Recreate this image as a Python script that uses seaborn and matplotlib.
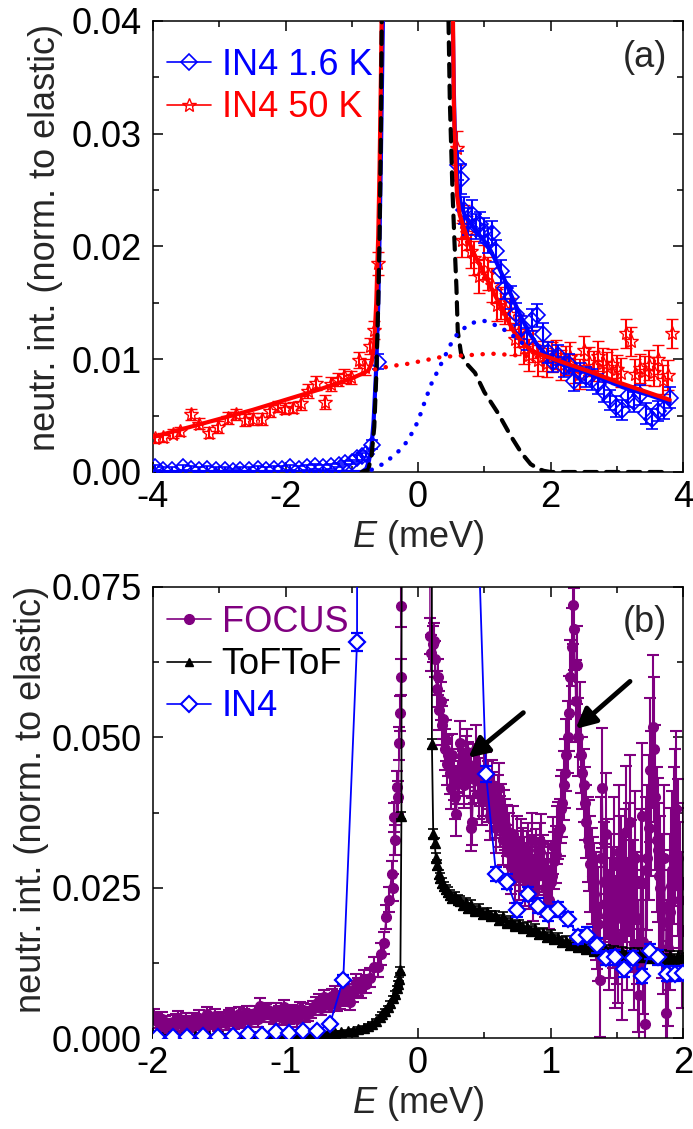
import numpy as np
import pandas as pd
import matplotlib
matplotlib.use("Agg")
import matplotlib.pyplot as plt
from matplotlib.lines import Line2D
from matplotlib.ticker import MultipleLocator, FormatStrFormatter
import seaborn as sns

# ---------------- data: panel (a) ----------------
in4_16K_x_left = [-3.97, -3.85, -3.72, -3.55, -3.42, -3.3, -3.18, -3.05, -2.92, -2.8, -2.68, -2.55, -2.42, -2.3, -2.18,
                  -2.05, -1.93, -1.8, -1.68, -1.56, -1.44, -1.32, -1.2, -1.1, -1.0, -0.92, -0.85, -0.78, -0.7, -0.6]
in4_16K_y_left = [0.0004, 0.0002, 0.0002, 0.0004, 0.0003, 0.0002, 0.0003, 0.0002, 0.0002, 0.0001, 0.0002, 0.0002, 0.0003,
                  0.0002, 0.0003, 0.0003, 0.0004, 0.0003, 0.0004, 0.0005, 0.0004, 0.0005, 0.0006, 0.0008, 0.0009, 0.0012,
                  0.0014, 0.0016, 0.0024, 0.0098]
in4_16K_e_left = [0.0002, 0.0002, 0.0002, 0.0002, 0.0002, 0.0002, 0.0002, 0.0002, 0.0002, 0.0002, 0.0002, 0.0002, 0.0002,
                  0.0002, 0.0002, 0.0002, 0.0002, 0.0002, 0.0002, 0.0002, 0.0002, 0.0002, 0.0002, 0.0002, 0.0002, 0.0003,
                  0.0003, 0.0003, 0.0004, 0.0007]
in4_16K_x_right = [0.6, 0.65, 0.7, 0.76, 0.82, 0.88, 0.94, 1.0, 1.06, 1.12, 1.18, 1.25, 1.32, 1.4, 1.48, 1.56, 1.64, 1.72,
                   1.8, 1.88, 1.96, 2.04, 2.12, 2.2, 2.28, 2.36, 2.45, 2.54, 2.63, 2.72, 2.81, 2.9, 2.99, 3.08, 3.17, 3.26,
                   3.35, 3.44, 3.53, 3.62, 3.71, 3.8]
in4_16K_y_right = [0.0272, 0.026, 0.0232, 0.0222, 0.0229, 0.0218, 0.022, 0.0214, 0.0205, 0.0212,
                   0.0196, 0.0178, 0.0163, 0.0155, 0.014, 0.0128, 0.0118, 0.0135, 0.0139, 0.0122,
                   0.0106, 0.0098, 0.0104, 0.0093, 0.0096, 0.0081, 0.0088, 0.0084, 0.0082, 0.0078,
                   0.0071, 0.0064, 0.0058, 0.0055, 0.0067, 0.0062, 0.0068, 0.0052, 0.0047, 0.0054,
                   0.0056, 0.0066]
in4_16K_e_right = [0.0013, 0.0013, 0.0012, 0.0012, 0.0012, 0.0011, 0.0011, 0.0011, 0.0011, 0.0011,
                   0.0010, 0.0010, 0.0010, 0.0010, 0.0010, 0.0010, 0.0010, 0.0010, 0.0010, 0.0010,
                   0.0009, 0.0009, 0.0009, 0.0009, 0.0009, 0.0009, 0.0009, 0.0009, 0.0009, 0.0009,
                   0.0009, 0.0009, 0.0009, 0.0009, 0.0009, 0.0009, 0.0009, 0.0009, 0.0009, 0.0009,
                   0.0009, 0.0009]

in4_50K_x_left = [-3.97, -3.85, -3.7, -3.6, -3.43, -3.3, -3.15, -3.02, -2.87, -2.74, -2.61, -2.49, -2.36, -2.24, -2.11,
                  -2.01, -1.89, -1.76, -1.66, -1.54, -1.41, -1.31, -1.21, -1.11, -1.01, -0.89, -0.8, -0.73, -0.66, -0.6]
in4_50K_y_left = [0.0030, 0.0031, 0.0034, 0.0036, 0.0051, 0.0043, 0.0035, 0.0040, 0.0048, 0.0051, 0.0046, 0.0047, 0.0047,
                  0.0054, 0.0058, 0.0056, 0.0057, 0.0061, 0.0072, 0.0079, 0.0062, 0.0078, 0.0082, 0.0085, 0.0084, 0.0099,
                  0.0093, 0.0112, 0.0126, 0.0185]
in4_50K_e_left = [0.0004, 0.0004, 0.0004, 0.0004, 0.0005, 0.0005, 0.0005, 0.0005, 0.0005, 0.0005, 0.0005, 0.0005, 0.0005,
                  0.0005, 0.0005, 0.0005, 0.0005, 0.0006, 0.0006, 0.0006, 0.0006, 0.0006, 0.0006, 0.0006, 0.0006, 0.0007,
                  0.0007, 0.0007, 0.0008, 0.0010]
in4_50K_x_right = [0.59, 0.66, 0.7, 0.74, 0.8, 0.85, 0.92, 0.99, 1.05, 1.12,
                   1.19, 1.25, 1.32, 1.39, 1.46, 1.53, 1.6, 1.67, 1.74, 1.81,
                   1.88, 1.95, 2.02, 2.09, 2.16, 2.23, 2.3, 2.37, 2.44, 2.51,
                   2.58, 2.65, 2.72, 2.79, 2.86, 2.93, 3.0, 3.07, 3.14, 3.21,
                   3.28, 3.35, 3.42, 3.49, 3.56, 3.63, 3.7, 3.77, 3.83]
in4_50K_y_right = [0.0287, 0.0206, 0.0222, 0.0212, 0.0196, 0.019, 0.0174, 0.0186, 0.0176, 0.0166,
                   0.0148, 0.015, 0.0145, 0.014, 0.0118, 0.0125, 0.011, 0.0104, 0.0112, 0.0099,
                   0.0103, 0.0097, 0.0102, 0.0104, 0.0095, 0.0099, 0.0102, 0.0092, 0.0087, 0.0108,
                   0.0098, 0.0094, 0.0103, 0.0097, 0.0093, 0.0096, 0.0091, 0.0088, 0.0123, 0.0116,
                   0.0087, 0.0092, 0.009, 0.0095, 0.0089, 0.01, 0.0082, 0.0086, 0.0123]
in4_50K_e_right = [0.0015, 0.0015, 0.0015, 0.0015, 0.0015, 0.0015, 0.0015, 0.0015, 0.0015, 0.0015,
                   0.0014, 0.0014, 0.0014, 0.0014, 0.0014, 0.0014, 0.0014, 0.0014, 0.0014, 0.0014,
                   0.0013, 0.0013, 0.0013, 0.0013, 0.0013, 0.0013, 0.0013, 0.0013, 0.0013, 0.0013,
                   0.0013, 0.0013, 0.0013, 0.0013, 0.0013, 0.0013, 0.0013, 0.0013, 0.0013, 0.0013,
                   0.0013, 0.0013, 0.0013, 0.0013, 0.0013, 0.0013, 0.0013, 0.0013, 0.0013]

# fit curves
fit50_x_left = [-4.0, -3.5, -3.0, -2.5, -2.0, -1.5, -1.2, -1.0, -0.85, -0.75, -0.7, -0.66, -0.63, -0.6, -0.58, -0.56, -0.545]
fit50_y_left = [0.0031, 0.0039, 0.0047, 0.0055, 0.0064, 0.0073, 0.0079, 0.0083, 0.0087, 0.0090, 0.0097, 0.0115, 0.0150,
                0.0210, 0.0270, 0.0350, 0.0420]
fit50_x_right = [0.525, 0.54, 0.56, 0.59, 0.63, 0.7, 0.76, 0.85, 1.0, 1.15, 1.26, 1.36, 1.46, 1.6, 1.71, 1.85, 1.96, 2.2,
                 2.6, 3.0, 3.4, 3.8]
fit50_y_right = [0.0420, 0.0330, 0.0280, 0.0245, 0.0228, 0.0215, 0.0205, 0.0193, 0.0176, 0.0158, 0.0146, 0.0134, 0.0123,
                 0.0113, 0.0108, 0.0104, 0.0102, 0.0097, 0.0089, 0.0080, 0.0072, 0.0064]
fit16_x_left = [-4.0, -0.85, -0.78, -0.74, -0.7, -0.67, -0.63, -0.6, -0.58, -0.56, -0.54, -0.525]
fit16_y_left = [0.0, 0.0, 0.0003, 0.0010, 0.0024, 0.0045, 0.0093, 0.0150, 0.0210, 0.0280, 0.0360, 0.0420]
fit16_x_right = [0.52, 0.54, 0.56, 0.6, 0.65, 0.72, 0.8, 0.9, 1.0, 1.1, 1.2, 1.31, 1.42, 1.56, 1.68, 1.81, 1.96, 2.2, 2.6,
                 3.1, 3.5, 3.8]
fit16_y_right = [0.0420, 0.0340, 0.0290, 0.0255, 0.0236, 0.0226, 0.0220, 0.0212, 0.0205, 0.0196, 0.0184, 0.0170, 0.0155,
                 0.0137, 0.0123, 0.0112, 0.0102, 0.0095, 0.0087, 0.0075, 0.0068, 0.0062]
elastic_x_left = [-0.85, -0.75, -0.7, -0.66, -0.63, -0.6, -0.58, -0.56, -0.545]
elastic_y_left = [0.0, 0.0002, 0.0015, 0.0040, 0.0085, 0.0150, 0.0210, 0.0300, 0.0420]
elastic_x_right = [0.455, 0.48, 0.52, 0.55, 0.58, 0.6, 0.65, 0.72, 0.86, 1.0, 1.21, 1.4, 1.56, 1.7, 1.81, 1.9, 2.0, 3.8]
elastic_y_right = [0.0420, 0.0330, 0.0250, 0.0205, 0.0164, 0.0125, 0.0105, 0.0097, 0.0088, 0.0071, 0.0052, 0.0032, 0.0017,
                   0.0007, 0.0003, 0.0001, 0.0, 0.0]
qe16_x = [-0.7, -0.5, -0.3, -0.15, 0.0, 0.1, 0.2, 0.35, 0.5, 0.6, 0.75, 0.86, 1.0, 1.1, 1.25, 1.36, 1.5, 1.6]
qe16_y = [0.0002, 0.0008, 0.0018, 0.0028, 0.0045, 0.0062, 0.0078, 0.0096, 0.0114, 0.0123, 0.0130, 0.0133, 0.0134, 0.0132,
          0.0128, 0.0124, 0.0118, 0.0113]
qe50_x = [-0.65, -0.4, -0.15, 0.1, 0.35, 0.6, 0.86, 1.1, 1.36, 1.6, 1.8]
qe50_y = [0.0091, 0.0094, 0.0096, 0.0099, 0.0102, 0.0103, 0.0104, 0.0105, 0.0104, 0.0103, 0.0102]

# ---------------- data: panel (b) ----------------
focus_x = [-1.99, -1.95, -1.91, -1.87, -1.83, -1.79, -1.75, -1.71, -1.67, -1.63,
           -1.59, -1.55, -1.51, -1.47, -1.43, -1.39, -1.35, -1.31, -1.27, -1.23,
           -1.19, -1.15, -1.11, -1.07, -1.03, -0.99, -0.95, -0.91, -0.87, -0.83,
           -0.79, -0.75, -0.71, -0.67, -0.63, -0.59, -0.55, -0.51, -0.47, -0.43,
           -0.39, -0.36, -0.33, -0.3, -0.28, -0.26, -0.24, -0.22, -0.2, -0.19,
           -0.18, -0.17, -0.16, -0.15, -0.14, -0.135, -0.13, -0.125, -0.115, 0.08,
           0.09, 0.11, 0.13, 0.15, 0.17, 0.19, 0.21, 0.23, 0.25, 0.27,
           0.29, 0.31, 0.33, 0.35, 0.37, 0.39, 0.41, 0.43, 0.45, 0.47,
           0.49, 0.51, 0.53, 0.55, 0.57, 0.59, 0.61, 0.63, 0.65, 0.67,
           0.69, 0.71, 0.73, 0.75, 0.77, 0.79, 0.81, 0.83, 0.85, 0.87,
           0.89, 0.91, 0.93, 0.95, 0.97, 0.99, 1.01, 1.03, 1.05, 1.07,
           1.09, 1.11, 1.13, 1.15, 1.17, 1.19, 1.21, 1.23, 1.25, 1.27,
           1.29, 1.31, 1.33, 1.35, 1.37, 1.39, 1.41, 1.43, 1.45, 1.47,
           1.49, 1.51, 1.53, 1.55, 1.57, 1.59, 1.61, 1.63, 1.65, 1.67,
           1.69, 1.71, 1.73, 1.75, 1.77, 1.79, 1.81, 1.83, 1.85, 1.87,
           1.89, 1.91, 1.93, 1.95, 1.97, 1.99]
focus_y = [0.0036, 0.0022, 0.0025, 0.0020, 0.0028, 0.0024, 0.0030, 0.0022, 0.0026, 0.0021,
           0.0040, 0.0028, 0.0024, 0.0032, 0.0035, 0.0027, 0.0040, 0.0036, 0.0030, 0.0042,
           0.0054, 0.0044, 0.0038, 0.0046, 0.0033, 0.0038, 0.0043, 0.0031, 0.0046, 0.0040,
           0.0050, 0.0062, 0.0068, 0.0055, 0.0074, 0.0062, 0.0068, 0.0060, 0.0091, 0.0082,
           0.0090, 0.0100, 0.0118, 0.0118, 0.0140, 0.0158, 0.0202, 0.0230, 0.0273, 0.0250,
           0.0367, 0.0330, 0.0418, 0.0400, 0.0490, 0.0540, 0.0600, 0.0718, 0.5000, 0.5000,
           0.0669, 0.0655, 0.0630, 0.0600, 0.0560, 0.0530, 0.0495, 0.0470, 0.0415, 0.0430,
           0.0372, 0.0445, 0.0455, 0.0420, 0.0476, 0.0440, 0.0360, 0.0450, 0.0446, 0.0425,
           0.0410, 0.0435, 0.0420, 0.0385, 0.0400, 0.0350, 0.0416, 0.0380, 0.0370, 0.0345,
           0.0330, 0.0300, 0.0270, 0.0325, 0.0290, 0.0305, 0.0265, 0.0313, 0.0280, 0.0240,
           0.0300, 0.0285, 0.0325, 0.0270, 0.0260, 0.0230, 0.0270, 0.0295, 0.0337, 0.0350,
           0.0390, 0.0440, 0.0500, 0.0600, 0.0720, 0.0560, 0.0500, 0.0470, 0.0420, 0.0360,
           0.0320, 0.0270, 0.0240, 0.0205, 0.0096, 0.0416, 0.0223, 0.0265, 0.0200, 0.0217,
           0.0160, 0.0169, 0.0259, 0.0230, 0.0343, 0.0280, 0.0253, 0.0157, 0.0200, 0.0072,
           0.0370, 0.0024, 0.0300, 0.0446, 0.0517, 0.0400, 0.0313, 0.0250, 0.0193, 0.0042,
           0.0150, 0.0253, 0.0320, 0.0380, 0.0253, 0.0180]
focus_e = [0.0012, 0.0012, 0.0012, 0.0012, 0.0012, 0.0012, 0.0012, 0.0012, 0.0012, 0.0012,
           0.0012, 0.0012, 0.0012, 0.0012, 0.0012, 0.0012, 0.0012, 0.0012, 0.0012, 0.0012,
           0.0012, 0.0012, 0.0012, 0.0012, 0.0012, 0.0012, 0.0012, 0.0012, 0.0012, 0.0012,
           0.0012, 0.0012, 0.0012, 0.0012, 0.0013, 0.0013, 0.0014, 0.0014, 0.0015, 0.0015,
           0.0015, 0.0016, 0.0016, 0.0017, 0.0018, 0.0019, 0.0020, 0.0021, 0.0022, 0.0023,
           0.0024, 0.0025, 0.0026, 0.0027, 0.0028, 0.0029, 0.0030, 0.0035, 0.0, 0.0,
           0.0030, 0.0030, 0.0030, 0.0030, 0.0032, 0.0032, 0.0034, 0.0034, 0.0035, 0.0035,
           0.0036, 0.0036, 0.0037, 0.0037, 0.0038, 0.0038, 0.0039, 0.0039, 0.0040, 0.0040,
           0.0040, 0.0040, 0.0040, 0.0040, 0.0042, 0.0042, 0.0042, 0.0042, 0.0042, 0.0042,
           0.0045, 0.0045, 0.0045, 0.0045, 0.0045, 0.0045, 0.0045, 0.0045, 0.0045, 0.0045,
           0.0048, 0.0048, 0.0048, 0.0048, 0.0048, 0.0048, 0.0048, 0.0048, 0.0048, 0.0048,
           0.0055, 0.0058, 0.0060, 0.0062, 0.0065, 0.0068, 0.0065, 0.0062, 0.0060, 0.0060,
           0.0075, 0.0080, 0.0085, 0.0090, 0.0095, 0.0100, 0.0100, 0.0100, 0.0100, 0.0100,
           0.0110, 0.0110, 0.0110, 0.0110, 0.0110, 0.0110, 0.0110, 0.0110, 0.0110, 0.0110,
           0.0120, 0.0120, 0.0120, 0.0120, 0.0120, 0.0120, 0.0120, 0.0120, 0.0120, 0.0120,
           0.0130, 0.0130, 0.0130, 0.0130, 0.0130, 0.0130]
# interleaved FOCUS channels (the reference trace is very dense)
focus2_x = [-1.97, -1.93, -1.89, -1.85, -1.81, -1.77, -1.73, -1.69, -1.65, -1.61,
            -1.57, -1.53, -1.49, -1.45, -1.41, -1.37, -1.33, -1.29, -1.25, -1.21,
            -1.17, -1.13, -1.09, -1.05, -1.01, -0.97, -0.93, -0.89, -0.85, -0.81,
            -0.77, -0.73, -0.69, -0.65, -0.61, -0.57, -0.53, -0.49, -0.45, -0.41,
            0.10, 0.12, 0.14, 0.16, 0.18, 0.20, 0.22, 0.24, 0.26, 0.28,
            0.30, 0.32, 0.34, 0.36, 0.38, 0.40, 0.42, 0.44, 0.46, 0.48,
            0.50, 0.52, 0.54, 0.56, 0.58, 0.60, 0.62, 0.64, 0.66, 0.68,
            0.70, 0.72, 0.74, 0.76, 0.78, 0.80, 0.82, 0.84, 0.86, 0.88,
            0.90, 0.92, 0.94, 0.96, 0.98, 1.00, 1.02, 1.04, 1.06, 1.08,
            1.10, 1.12, 1.14, 1.16, 1.18, 1.20, 1.22, 1.24, 1.26, 1.28,
            1.30, 1.32, 1.34, 1.36, 1.38, 1.40, 1.42, 1.44, 1.46, 1.48,
            1.50, 1.52, 1.54, 1.56, 1.58, 1.60, 1.62, 1.64, 1.66, 1.68,
            1.70, 1.72, 1.74, 1.76, 1.78, 1.80, 1.82, 1.84, 1.86, 1.88,
            1.90, 1.92, 1.94, 1.96, 1.98, 2.00]
focus2_y = [0.0028, 0.0031, 0.0019, 0.0026, 0.0033, 0.0021, 0.0025, 0.0029, 0.0034, 0.0023,
            0.0027, 0.0036, 0.0030, 0.0025, 0.0038, 0.0032, 0.0029, 0.0041, 0.0035, 0.0031,
            0.0038, 0.0047, 0.0035, 0.0041, 0.0052, 0.0036, 0.0040, 0.0048, 0.0038, 0.0045,
            0.0056, 0.0050, 0.0060, 0.0070, 0.0058, 0.0072, 0.0080, 0.0075, 0.0085, 0.0098,
            0.0640, 0.0660, 0.0580, 0.0545, 0.0520, 0.0480, 0.0455, 0.0440, 0.0470, 0.0400,
            0.0425, 0.0490, 0.0440, 0.0465, 0.0455, 0.0350, 0.0430, 0.0480, 0.0405, 0.0395,
            0.0445, 0.0400, 0.0370, 0.0420, 0.0375, 0.0395, 0.0360, 0.0330, 0.0355, 0.0310,
            0.0285, 0.0340, 0.0300, 0.0275, 0.0320, 0.0290, 0.0300, 0.0260, 0.0330, 0.0290,
            0.0270, 0.0310, 0.0290, 0.0250, 0.0280, 0.0260, 0.0320, 0.0305, 0.0345, 0.0380,
            0.0420, 0.0470, 0.0540, 0.0650, 0.0680, 0.0620, 0.0530, 0.0440, 0.0390, 0.0330,
            0.0290, 0.0250, 0.0220, 0.0190, 0.0300, 0.0260, 0.0340, 0.0180, 0.0240, 0.0290,
            0.0200, 0.0310, 0.0140, 0.0270, 0.0190, 0.0360, 0.0220, 0.0300, 0.0120, 0.0260,
            0.0160, 0.0280, 0.0350, 0.0390, 0.0480, 0.0330, 0.0270, 0.0220, 0.0300, 0.0100,
            0.0210, 0.0280, 0.0350, 0.0300, 0.0230, 0.0260]
focus2_e = [0.0012, 0.0012, 0.0012, 0.0012, 0.0012, 0.0012, 0.0012, 0.0012, 0.0012, 0.0012,
            0.0012, 0.0012, 0.0012, 0.0012, 0.0012, 0.0012, 0.0012, 0.0012, 0.0012, 0.0012,
            0.0012, 0.0012, 0.0012, 0.0012, 0.0012, 0.0012, 0.0012, 0.0012, 0.0012, 0.0012,
            0.0012, 0.0012, 0.0012, 0.0012, 0.0013, 0.0014, 0.0014, 0.0015, 0.0015, 0.0015,
            0.0030, 0.0030, 0.0030, 0.0032, 0.0032, 0.0034, 0.0034, 0.0035, 0.0035, 0.0036,
            0.0036, 0.0037, 0.0037, 0.0038, 0.0038, 0.0039, 0.0039, 0.0040, 0.0040, 0.0040,
            0.0040, 0.0040, 0.0040, 0.0042, 0.0042, 0.0042, 0.0042, 0.0042, 0.0042, 0.0045,
            0.0045, 0.0045, 0.0045, 0.0045, 0.0045, 0.0045, 0.0045, 0.0045, 0.0045, 0.0048,
            0.0048, 0.0048, 0.0048, 0.0048, 0.0048, 0.0048, 0.0048, 0.0048, 0.0048, 0.0055,
            0.0058, 0.0060, 0.0062, 0.0065, 0.0068, 0.0065, 0.0062, 0.0060, 0.0060, 0.0070,
            0.0080, 0.0085, 0.0090, 0.0095, 0.0100, 0.0100, 0.0100, 0.0100, 0.0100, 0.0110,
            0.0110, 0.0110, 0.0110, 0.0110, 0.0110, 0.0110, 0.0110, 0.0110, 0.0110, 0.0120,
            0.0120, 0.0120, 0.0120, 0.0120, 0.0120, 0.0120, 0.0120, 0.0120, 0.0120, 0.0130,
            0.0130, 0.0130, 0.0130, 0.0130, 0.0130, 0.0130]

tof_x = [-1.98, -1.93, -1.88, -1.83, -1.78, -1.73, -1.68, -1.63, -1.58, -1.53,
         -1.48, -1.43, -1.38, -1.33, -1.28, -1.23, -1.18, -1.13, -1.08, -1.03,
         -0.98, -0.93, -0.88, -0.83, -0.78, -0.73, -0.68, -0.63, -0.58, -0.53,
         -0.49, -0.45, -0.41, -0.38, -0.35, -0.32, -0.29, -0.27, -0.25, -0.23,
         -0.21, -0.19, -0.175, -0.16, -0.15, -0.14, -0.133, -0.125, -0.118, 0.0,
         0.1, 0.105, 0.115, 0.125, 0.135, 0.145, 0.155, 0.165, 0.18, 0.195,
         0.21, 0.225, 0.24, 0.26, 0.28, 0.30, 0.32, 0.34, 0.36, 0.38,
         0.40, 0.43, 0.46, 0.49, 0.52, 0.55, 0.58, 0.61, 0.64, 0.67,
         0.70, 0.73, 0.76, 0.79, 0.82, 0.85, 0.88, 0.91, 0.94, 0.97,
         1.00, 1.03, 1.06, 1.09, 1.12, 1.15, 1.18, 1.21, 1.24, 1.27,
         1.30, 1.33, 1.36, 1.39, 1.42, 1.45, 1.48, 1.51, 1.54, 1.57,
         1.60, 1.63, 1.66, 1.69, 1.72, 1.75, 1.78, 1.81, 1.84, 1.87,
         1.90, 1.93, 1.96, 1.99]
tof_y = [0.0003, 0.0002, 0.0003, 0.0003, 0.0002, 0.0003, 0.0003, 0.0004, 0.0003, 0.0003,
         0.0004, 0.0003, 0.0004, 0.0004, 0.0004, 0.0004, 0.0005, 0.0004, 0.0005, 0.0005,
         0.0005, 0.0006, 0.0006, 0.0006, 0.0007, 0.0007, 0.0008, 0.0009, 0.0010, 0.0011,
         0.0012, 0.0015, 0.0017, 0.0020, 0.0024, 0.0029, 0.0035, 0.0040, 0.0045, 0.0051,
         0.0058, 0.0066, 0.0074, 0.0083, 0.0090, 0.0098, 0.0113, 0.0370, 0.2500, 1.0000,
         0.3000, 0.0489, 0.0340, 0.0325, 0.0300, 0.0288, 0.0272, 0.0266, 0.0258, 0.0252,
         0.0247, 0.0243, 0.0238, 0.0233, 0.0234, 0.0229, 0.0228, 0.0221, 0.0225, 0.0216,
         0.0222, 0.0212, 0.0215, 0.0206, 0.0209, 0.0203, 0.0204, 0.0196, 0.0201, 0.0192,
         0.0195, 0.0187, 0.0189, 0.0183, 0.0185, 0.0178, 0.0181, 0.0173, 0.0175, 0.0168,
         0.0171, 0.0164, 0.0166, 0.0160, 0.0161, 0.0155, 0.0158, 0.0151, 0.0155, 0.0148,
         0.0152, 0.0145, 0.0150, 0.0143, 0.0147, 0.0141, 0.0145, 0.0139, 0.0143, 0.0137,
         0.0142, 0.0135, 0.0141, 0.0134, 0.0140, 0.0133, 0.0139, 0.0132, 0.0138, 0.0131,
         0.0137, 0.0132, 0.0136, 0.0133]
tof_e = [0.0002, 0.0002, 0.0002, 0.0002, 0.0002, 0.0002, 0.0002, 0.0002, 0.0002, 0.0002,
         0.0002, 0.0002, 0.0002, 0.0002, 0.0002, 0.0002, 0.0002, 0.0002, 0.0002, 0.0002,
         0.0002, 0.0002, 0.0002, 0.0002, 0.0002, 0.0002, 0.0002, 0.0002, 0.0002, 0.0002,
         0.0003, 0.0003, 0.0003, 0.0003, 0.0003, 0.0003, 0.0003, 0.0003, 0.0003, 0.0003,
         0.0004, 0.0004, 0.0004, 0.0004, 0.0004, 0.0004, 0.0005, 0.0006, 0.0, 0.0,
         0.0, 0.0008, 0.0008, 0.0008, 0.0008, 0.0008, 0.0008, 0.0008, 0.0008, 0.0008,
         0.0008, 0.0008, 0.0008, 0.0008, 0.0008, 0.0008, 0.0008, 0.0008, 0.0008, 0.0008,
         0.0008, 0.0008, 0.0008, 0.0008, 0.0008, 0.0008, 0.0008, 0.0008, 0.0008, 0.0008,
         0.0008, 0.0008, 0.0008, 0.0008, 0.0008, 0.0008, 0.0008, 0.0008, 0.0008, 0.0008,
         0.0008, 0.0008, 0.0008, 0.0008, 0.0008, 0.0008, 0.0008, 0.0008, 0.0008, 0.0008,
         0.0008, 0.0008, 0.0008, 0.0008, 0.0008, 0.0008, 0.0008, 0.0008, 0.0008, 0.0008,
         0.0008, 0.0008, 0.0008, 0.0008, 0.0008, 0.0008, 0.0008, 0.0008, 0.0008, 0.0008,
         0.0008, 0.0008, 0.0008, 0.0008]

in4b_x = [-1.97, -1.85, -1.74, -1.62, -1.51, -1.40, -1.28, -1.18, -1.07, -0.97, -0.865, -0.76, -0.664, -0.564,
          -0.46, -0.44, 0.0, 0.42,
          0.513, 0.589, 0.669, 0.75, 0.828, 0.908, 0.983, 1.059, 1.134, 1.21, 1.278, 1.348, 1.419, 1.487, 1.555,
          1.62, 1.688, 1.75, 1.814, 1.877, 1.94, 2.0]
in4b_y = [0.0002, 0.0002, 0.0002, 0.0003, 0.0002, 0.0003, 0.0006, 0.0005, 0.0010, 0.0009, 0.0012, 0.0012, 0.0024, 0.0097,
          0.0658, 0.8000, 1.0000, 0.1080,
          0.0439, 0.0273, 0.0260, 0.0213, 0.0239, 0.0220, 0.0207, 0.0214, 0.0198, 0.0168, 0.0172, 0.0154, 0.0133,
          0.0134, 0.0114, 0.0133, 0.0103, 0.0144, 0.0134, 0.0107, 0.0107, 0.0108]
in4b_e = [0.0003, 0.0003, 0.0003, 0.0003, 0.0003, 0.0003, 0.0003, 0.0003, 0.0003, 0.0003, 0.0003, 0.0003, 0.0004, 0.0008,
          0.0015, 0.0, 0.0, 0.0,
          0.0014, 0.0012, 0.0012, 0.0012, 0.0012, 0.0012, 0.0012, 0.0012, 0.0012, 0.0012, 0.0012, 0.0012, 0.0012,
          0.0012, 0.0012, 0.0012, 0.0012, 0.0012, 0.0012, 0.0012, 0.0012, 0.0012]

# arrows in panel (b): (tail E, tail I) -> (head E, head I)
arrow_tails = [(0.795, 0.0541), (1.60, 0.0593)]
arrow_heads = [(0.38, 0.0466), (1.19, 0.0514)]

BLUE = "#0000FF"
RED = "#FF0000"
PURPLE = "#800080"
BLACK = "#000000"

sns.set_theme(style="ticks")
plt.rcParams["font.family"] = ["Liberation Sans", "DejaVu Sans"]
plt.rcParams.update({
    "mathtext.fontset": "custom",
    "mathtext.rm": "Liberation Sans",
    "mathtext.it": "Liberation Sans:italic",
    "font.size": 26,
    "axes.linewidth": 1.1,
    "axes.edgecolor": "black",
    "xtick.color": "black",
    "ytick.color": "black",
})

FS = 26
W, H = 693, 1129
fig = plt.figure(figsize=(W / 100, H / 100), dpi=100)
ax1 = fig.add_axes([153 / W, 1 - 472 / H, 530 / W, 451 / H])
ax2 = fig.add_axes([153 / W, 1 - 1038 / H, 530 / W, 451 / H])


def style_axis(ax, xmaj, xmin, ymaj, ymin, yfmt):
    ax.xaxis.set_major_locator(MultipleLocator(xmaj))
    ax.xaxis.set_minor_locator(MultipleLocator(xmin))
    ax.yaxis.set_major_locator(MultipleLocator(ymaj))
    ax.yaxis.set_minor_locator(MultipleLocator(ymin))
    ax.yaxis.set_major_formatter(FormatStrFormatter(yfmt))
    ax.xaxis.set_major_formatter(FormatStrFormatter("%g"))
    ax.tick_params(which="both", direction="in", top=True, right=True, labelsize=FS, width=1.1, colors="black")
    ax.tick_params(which="major", length=7)
    ax.tick_params(axis="y", which="major", pad=8)
    ax.tick_params(axis="x", which="major", pad=6)
    ax.tick_params(which="minor", length=4)
    for s in ax.spines.values():
        s.set_color("black")
        s.set_linewidth(1.1)


def fit_line(ax, x, y, color, ls="-", lw=3.0, z=5):
    sns.lineplot(x=x, y=y, ax=ax, color=color, linewidth=lw, linestyle=ls, sort=False, estimator=None,
                 legend=False, zorder=z, dash_capstyle="round" if ls != "-" else "butt")


# ---------------- panel (a) ----------------
ax = ax1
ax.errorbar(in4_50K_x_left + in4_50K_x_right, in4_50K_y_left + in4_50K_y_right,
            yerr=in4_50K_e_left + in4_50K_e_right, fmt="*", ms=10, mfc="none", mec=RED, mew=1.0,
            ecolor=RED, elinewidth=1.5, capsize=4.5, capthick=1.5, zorder=3)
ax.errorbar(in4_16K_x_left + in4_16K_x_right, in4_16K_y_left + in4_16K_y_right,
            yerr=in4_16K_e_left + in4_16K_e_right, fmt="D", ms=8, mfc="none", mec=BLUE, mew=1.2,
            ecolor=BLUE, elinewidth=1.5, capsize=4.5, capthick=1.5, zorder=4)
fit_line(ax, fit16_x_left, fit16_y_left, BLUE, z=5)
fit_line(ax, fit16_x_right, fit16_y_right, BLUE, z=5)
fit_line(ax, fit50_x_left, fit50_y_left, RED, z=6)
fit_line(ax, fit50_x_right, fit50_y_right, RED, z=6)
fit_line(ax, elastic_x_left, elastic_y_left, BLACK, ls=(0, (3, 2.2)), lw=3.0, z=7)
fit_line(ax, elastic_x_right, elastic_y_right, BLACK, ls=(0, (3, 2.2)), lw=3.0, z=7)
fit_line(ax, qe16_x, qe16_y, BLUE, ls=(0, (0.05, 2.4)), lw=3.2, z=7)
fit_line(ax, qe50_x, qe50_y, RED, ls=(0, (0.05, 2.4)), lw=3.2, z=7)

ax.set_xlim(-4, 4)
ax.set_ylim(0, 0.04)
style_axis(ax, 2, 1, 0.01, 0.005, "%.2f")
ax.set_xlabel("$E$ (meV)", fontsize=FS, labelpad=2)
ax.set_ylabel("neutr. int. (norm. to elastic)", fontsize=FS)
ax.yaxis.set_label_coords(-0.17, 0.52)
ax.text(0.97, 0.92, "(a)", transform=ax.transAxes, ha="right", va="center", fontsize=FS)
ha = [Line2D([], [], color=BLUE, lw=1.2, marker="D", ms=8, mfc="none", mec=BLUE, mew=1.2),
      Line2D([], [], color=RED, lw=1.2, marker="*", ms=10, mfc="none", mec=RED, mew=1.0)]
ax.legend(ha, ["IN4 1.6 K", "IN4 50 K"], loc="upper left", bbox_to_anchor=(0.0, 0.972),
          frameon=False, fontsize=FS, handlelength=1.2, handletextpad=0.3, labelspacing=0.2,
          borderpad=0.2, borderaxespad=0.2, labelcolor="linecolor")

# ---------------- panel (b) ----------------
ax = ax2
focus_df = pd.DataFrame({"E": focus_x + focus2_x, "I": focus_y + focus2_y, "err": focus_e + focus2_e})
focus_df = focus_df.sort_values("E")
ax.errorbar(focus_df["E"], focus_df["I"], yerr=focus_df["err"], fmt="-o", color=PURPLE, ms=7, lw=1.0,
            ecolor=PURPLE, elinewidth=1.5, capsize=4.5, capthick=1.5, zorder=2)
ax.errorbar(tof_x, tof_y, yerr=tof_e, fmt="-^", color=BLACK, ms=7.5, lw=1.3,
            ecolor=BLACK, elinewidth=1.2, capsize=3.5, capthick=1.2, zorder=3)
ax.errorbar(in4b_x, in4b_y, yerr=in4b_e, fmt="-D", color=BLUE, ms=8, mfc="white", mec=BLUE, mew=1.6, lw=1.3,
            ecolor=BLUE, elinewidth=1.5, capsize=4.5, capthick=1.5, zorder=4)
for (tx, ty), (hx, hy) in zip(arrow_tails, arrow_heads):
    ax.annotate("", xy=(hx, hy), xytext=(tx, ty),
                arrowprops=dict(arrowstyle="-|>", lw=3.5, color="black", mutation_scale=30,
                                shrinkA=0, shrinkB=0), zorder=6)

ax.set_xlim(-2, 2)
ax.set_ylim(0, 0.075)
style_axis(ax, 1, 0.5, 0.025, 0.0125, "%.3f")
ax.set_xlabel("$E$ (meV)", fontsize=FS, labelpad=2)
ax.set_ylabel("neutr. int. (norm. to elastic)", fontsize=FS)
ax.yaxis.set_label_coords(-0.196, 0.53)
ax.text(0.97, 0.922, "(b)", transform=ax.transAxes, ha="right", va="center", fontsize=FS)
hb = [Line2D([], [], color=PURPLE, lw=1.2, marker="o", ms=7),
      Line2D([], [], color=BLACK, lw=1.2, marker="^", ms=6),
      Line2D([], [], color=BLUE, lw=1.2, marker="D", ms=8, mfc="white", mec=BLUE, mew=1.5)]
ax.legend(hb, ["FOCUS", "ToFToF", "IN4"], loc="upper left", bbox_to_anchor=(0.0, 0.992),
          frameon=False, fontsize=FS, handlelength=1.2, handletextpad=0.3, labelspacing=0.2,
          borderpad=0.2, borderaxespad=0.2, labelcolor="linecolor")

fig.savefig("out.png", dpi=100)
